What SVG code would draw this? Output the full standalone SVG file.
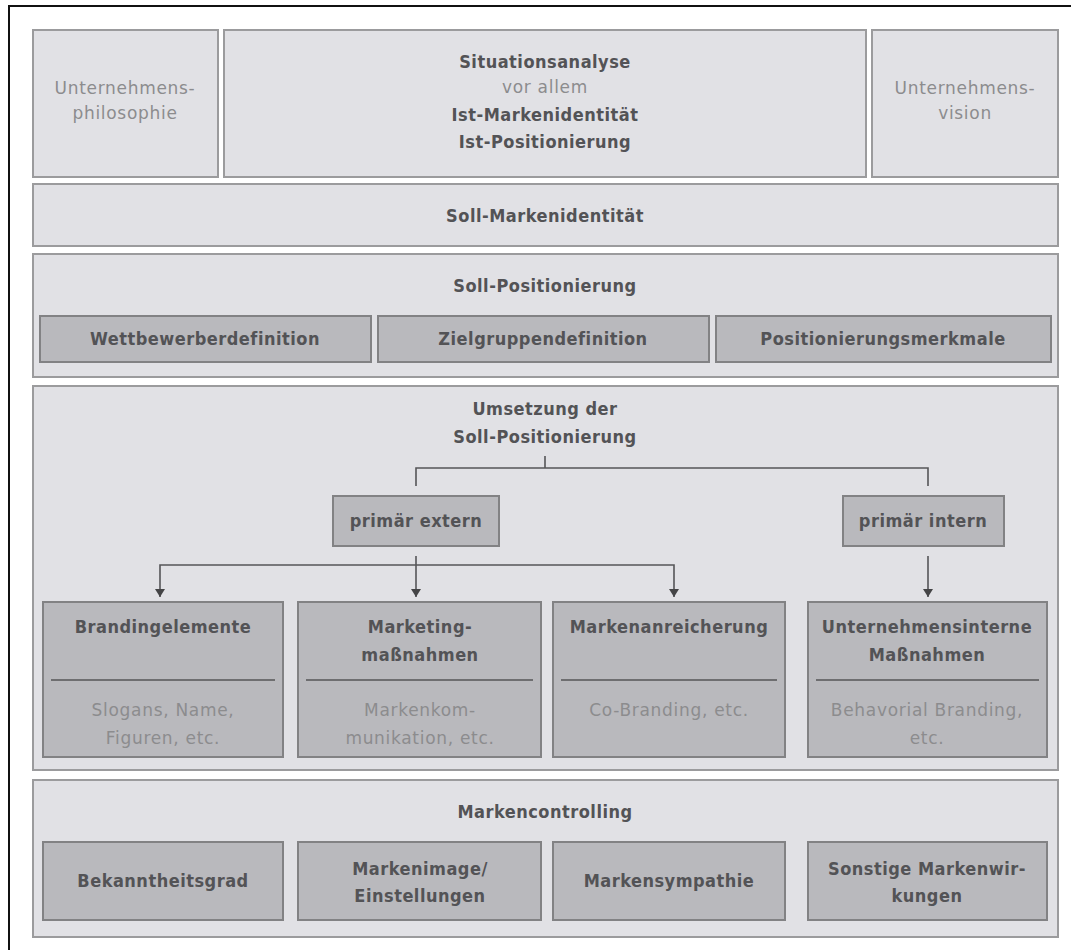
<svg xmlns="http://www.w3.org/2000/svg" width="1071" height="950" viewBox="0 0 1071 950">
  <style>
    .frame { fill: #ffffff; stroke: #111111; stroke-width: 2; }
    .outer { fill: #e1e1e5; stroke: #9b9b9d; stroke-width: 2; }
    .inner { fill: #b9b9bd; stroke: #828284; stroke-width: 2; }
    .divider { stroke: #6e6e70; stroke-width: 2; }
    text { font-family: "DejaVu Sans Condensed", "DejaVu Sans", sans-serif; font-size: 18px; text-anchor: middle; }
    .b { font-weight: bold; fill: #535356; letter-spacing: 0.5px; }
    .l { font-family: "DejaVu Sans", sans-serif; font-size: 17px; fill: #8c8c8e; letter-spacing: 0.7px; }
    .conn { fill: none; stroke: #555558; stroke-width: 1.6; }
  </style>
  <defs>
    <marker id="arrow" viewBox="0 0 8 10" refX="8" refY="5" markerWidth="8" markerHeight="10" markerUnits="userSpaceOnUse" orient="auto">
      <path d="M0,0 L8,5 L0,10 Z" fill="#444446"/>
    </marker>
  </defs>

  <rect class="frame" x="9" y="6" width="1080" height="960"/>

  <g id="unternehmensphilosophie">
    <rect class="outer" x="33" y="30" width="185" height="147"/>
    <text class="l" x="125" y="94">Unternehmens-</text>
    <text class="l" x="125" y="119">philosophie</text>
  </g>
  <g id="situationsanalyse">
    <rect class="outer" x="224" y="30" width="642" height="147"/>
    <text class="b" x="545" y="68">Situationsanalyse</text>
    <text class="l" x="545" y="93">vor allem</text>
    <text class="b" x="545" y="121">Ist-Markenidentität</text>
    <text class="b" x="545" y="148">Ist-Positionierung</text>
  </g>
  <g id="unternehmensvision">
    <rect class="outer" x="872" y="30" width="186" height="147"/>
    <text class="l" x="965" y="94">Unternehmens-</text>
    <text class="l" x="965" y="119">vision</text>
  </g>

  <g id="soll-markenidentitaet">
    <rect class="outer" x="33" y="184" width="1025" height="62"/>
    <text class="b" x="545" y="222">Soll-Markenidentität</text>
  </g>

  <g id="soll-positionierung">
    <rect class="outer" x="33" y="254" width="1025" height="123"/>
    <text class="b" x="545" y="292">Soll-Positionierung</text>
    <g id="wettbewerberdefinition">
      <rect class="inner" x="40" y="316" width="331" height="46"/>
      <text class="b" x="205" y="345">Wettbewerberdefinition</text>
    </g>
    <g id="zielgruppendefinition">
      <rect class="inner" x="378" y="316" width="331" height="46"/>
      <text class="b" x="543" y="345">Zielgruppendefinition</text>
    </g>
    <g id="positionierungsmerkmale">
      <rect class="inner" x="716" y="316" width="335" height="46"/>
      <text class="b" x="883" y="345">Positionierungsmerkmale</text>
    </g>
  </g>

  <g id="umsetzung">
    <rect class="outer" x="33" y="386" width="1025" height="384"/>
    <text class="b" x="545" y="415">Umsetzung der</text>
    <text class="b" x="545" y="443">Soll-Positionierung</text>
  </g>

  <g id="primaer-extern">
    <rect class="inner" x="333" y="496" width="166" height="50"/>
    <text class="b" x="416" y="527">primär extern</text>
  </g>
  <g id="primaer-intern">
    <rect class="inner" x="843" y="496" width="161" height="50"/>
    <text class="b" x="923" y="527">primär intern</text>
  </g>

  <g id="brandingelemente">
    <rect class="inner" x="43" y="602" width="240" height="155"/>
    <text class="b" x="163" y="633">Brandingelemente</text>
    <line class="divider" x1="51" y1="680" x2="275" y2="680"/>
    <text class="l" x="163" y="716">Slogans, Name,</text>
    <text class="l" x="163" y="744">Figuren, etc.</text>
  </g>
  <g id="marketingmassnahmen">
    <rect class="inner" x="298" y="602" width="243" height="155"/>
    <text class="b" x="420" y="633">Marketing-</text>
    <text class="b" x="420" y="661">maßnahmen</text>
    <line class="divider" x1="306" y1="680" x2="533" y2="680"/>
    <text class="l" x="420" y="716">Markenkom-</text>
    <text class="l" x="420" y="744">munikation, etc.</text>
  </g>
  <g id="markenanreicherung">
    <rect class="inner" x="553" y="602" width="232" height="155"/>
    <text class="b" x="669" y="633">Markenanreicherung</text>
    <line class="divider" x1="561" y1="680" x2="777" y2="680"/>
    <text class="l" x="669" y="716">Co-Branding, etc.</text>
  </g>
  <g id="unternehmensinterne-massnahmen">
    <rect class="inner" x="808" y="602" width="239" height="155"/>
    <text class="b" x="927" y="633">Unternehmensinterne</text>
    <text class="b" x="927" y="661">Maßnahmen</text>
    <line class="divider" x1="816" y1="680" x2="1039" y2="680"/>
    <text class="l" x="927" y="716">Behavorial Branding,</text>
    <text class="l" x="927" y="744">etc.</text>
  </g>

  <g id="markencontrolling">
    <rect class="outer" x="33" y="780" width="1025" height="157"/>
    <text class="b" x="545" y="818">Markencontrolling</text>
    <g id="bekanntheitsgrad">
      <rect class="inner" x="43" y="842" width="240" height="78"/>
      <text class="b" x="163" y="887">Bekanntheitsgrad</text>
    </g>
    <g id="markenimage">
      <rect class="inner" x="298" y="842" width="243" height="78"/>
      <text class="b" x="420" y="875">Markenimage/</text>
      <text class="b" x="420" y="902">Einstellungen</text>
    </g>
    <g id="markensympathie">
      <rect class="inner" x="553" y="842" width="232" height="78"/>
      <text class="b" x="669" y="887">Markensympathie</text>
    </g>
    <g id="sonstige-markenwirkungen">
      <rect class="inner" x="808" y="842" width="239" height="78"/>
      <text class="b" x="927" y="875">Sonstige Markenwir-</text>
      <text class="b" x="927" y="902">kungen</text>
    </g>
  </g>

  <g id="connectors">
    <!-- split from Umsetzung into extern / intern -->
    <path class="conn" d="M545,456 V468 M416,486 V468 H928 V486"/>
    <!-- primär extern fan-out -->
    <path class="conn" d="M416,556 V597" marker-end="url(#arrow)"/>
    <path class="conn" d="M416,565 H160 V597" marker-end="url(#arrow)"/>
    <path class="conn" d="M416,565 H674 V597" marker-end="url(#arrow)"/>
    <!-- primär intern -->
    <path class="conn" d="M928,556 V597" marker-end="url(#arrow)"/>
  </g>
</svg>
